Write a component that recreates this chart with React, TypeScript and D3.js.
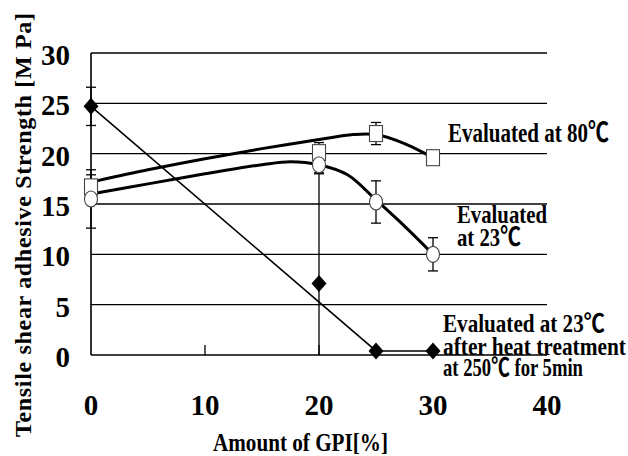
import React, { useLayoutEffect, useRef, useState } from "react";
import * as d3 from "d3";

// GPI content (%) at which the specimens were tested
const gpi = [0, 20, 25, 30];

// Tensile shear adhesive strength (MPa) and error half-widths
const at80 = [16.7, 20.1, 22.0, 19.6];
const at80Err = [1.2, 1.0, 1.1, 0];
const at23 = [15.5, 18.9, 15.2, 10.0];
const at23Err = [2.9, 0.8, 2.1, 1.65];
const heat = [24.7, 7.1, 0.4, 0.4];
const heatErr = [1.9, 10.9, 0, 0];

// Smoothed trend curves drawn behind the markers
const at80FitX = [0.5, 5, 10, 15, 20, 23, 25, 27.5, 30];
const at80FitY = [17.3, 18.4, 19.5, 20.5, 21.4, 21.9, 21.9, 21.0, 19.6];
const at23FitX = [0.5, 5, 10, 15, 17.5, 20, 22.5, 25, 27.5, 30];
const at23FitY = [16.1, 17.0, 18.0, 18.9, 19.2, 18.9, 17.9, 15.4, 12.8, 10.0];
// Straight trend for the heat-treated series
const heatFitX = [0, 25, 30];
const heatFitY = [24.7, 0.4, 0.4];

const yTicks = [0, 5, 10, 15, 20, 25, 30];
const xTicks = [0, 10, 20, 30, 40];

const W = 628;
const H = 456;
const serif = "'Liberation Serif', 'Times New Roman', serif";
const gothic = "'Noto Sans CJK JP', 'DejaVu Sans', sans-serif";

// Bold serif text squeezed horizontally to a given width
function FitText(props: {
  x: number;
  y: number;
  width: number;
  size: number;
  children: React.ReactNode;
}) {
  const ref = useRef<SVGTextElement>(null);
  const [s, setS] = useState(1);
  useLayoutEffect(() => {
    const el = ref.current;
    if (el) {
      const w = el.getComputedTextLength();
      if (w > 0) setS(props.width / w);
    }
  }, [props.width, props.size]);
  return (
    <text
      ref={ref}
      transform={`translate(${props.x},${props.y}) scale(${s},1)`}
      fontFamily={serif}
      fontWeight="bold"
      fontSize={props.size}
    >
      {props.children}
    </text>
  );
}

const Deg = () => <tspan fontFamily={gothic}>℃</tspan>;

export default function App() {
  const x = d3.scaleLinear().domain([0, 40]).range([91, 547]);
  const y = d3.scaleLinear().domain([0, 30]).range([355, 53]);

  const smooth = d3
    .line<[number, number]>()
    .x((d) => x(d[0]))
    .y((d) => y(d[1]))
    .curve(d3.curveCatmullRom.alpha(0.5));
  const straight = d3
    .line<[number, number]>()
    .x((d) => x(d[0]))
    .y((d) => y(d[1]));

  const zip = (a: number[], b: number[]) => a.map((v, i) => [v, b[i]] as [number, number]);

  const errBars = (vals: number[], errs: number[], key: string) =>
    vals.map((v, i) => {
      if (!errs[i]) return null;
      const cx = x(gpi[i]);
      const top = v + errs[i];
      const bot = Math.max(0, v - errs[i]);
      return (
        <g key={key + i} stroke="#000" strokeWidth={1.3}>
          <line x1={cx} x2={cx} y1={y(top)} y2={y(bot)} />
          <line x1={cx - 5} x2={cx + 5} y1={y(top)} y2={y(top)} />
          {v - errs[i] > 0 && <line x1={cx - 5} x2={cx + 5} y1={y(bot)} y2={y(bot)} />}
        </g>
      );
    });

  const diamond = "M0,-8.5L7.5,0L0,8.5L-7.5,0Z";

  return (
    <svg
      width={W}
      height={H}
      style={{ position: "absolute", left: 0, top: 0, background: "#fff" }}
    >
      <rect width={W} height={H} fill="#fff" />
      {/* grid */}
      {yTicks.slice(1).map((t) => (
        <line key={"g" + t} x1={x(0)} x2={x(40)} y1={y(t)} y2={y(t)} stroke="#000" strokeWidth={1.3} />
      ))}
      {/* axes */}
      <line x1={x(0)} x2={x(40)} y1={y(0)} y2={y(0)} stroke="#000" strokeWidth={1.6} />
      <line x1={x(0)} x2={x(0)} y1={y(30)} y2={y(0)} stroke="#000" strokeWidth={1.6} />
      {xTicks.slice(1, 4).map((t) => (
        <line key={"xt" + t} x1={x(t)} x2={x(t)} y1={y(0)} y2={y(0) - 10} stroke="#000" strokeWidth={1.3} />
      ))}

      {/* tick labels */}
      {yTicks.map((t) => (
        <text
          key={"yl" + t}
          x={70}
          y={y(t) + 12}
          textAnchor="end"
          fontFamily={serif}
          fontWeight="bold"
          fontSize={29}
        >
          {t}
        </text>
      ))}
      {xTicks.map((t) => (
        <text
          key={"xl" + t}
          x={x(t)}
          y={415}
          textAnchor="middle"
          fontFamily={serif}
          fontWeight="bold"
          fontSize={29}
        >
          {t}
        </text>
      ))}

      {/* axis titles */}
      <text
        transform="translate(31,437) rotate(-90)"
        fontFamily={serif}
        fontWeight="bold"
        fontSize={24}
        textLength={424}
        lengthAdjust="spacing"
      >
        Tensile shear adhesive Strength [M Pa]
      </text>
      <FitText x={213} y={451} width={175} size={25}>
        Amount of GPI[%]
      </FitText>

      {/* trend curves */}
      <path d={smooth(zip(at80FitX, at80FitY)) ?? ""} fill="none" stroke="#000" strokeWidth={3} />
      <path d={smooth(zip(at23FitX, at23FitY)) ?? ""} fill="none" stroke="#000" strokeWidth={3} />
      <path d={straight(zip(heatFitX, heatFitY)) ?? ""} fill="none" stroke="#000" strokeWidth={1.6} />

      {/* error bars */}
      {errBars(heat, heatErr, "he")}
      {errBars(at80, at80Err, "ae")}
      {errBars(at23, at23Err, "ce")}

      {/* markers */}
      {at80.map((v, i) => (
        <rect
          key={"sq" + i}
          x={x(gpi[i]) - 6.5}
          y={y(v) - 8}
          width={13}
          height={16}
          fill="#fff"
          stroke="#444"
          strokeWidth={1.1}
        />
      ))}
      {at23.map((v, i) => (
        <ellipse
          key={"ci" + i}
          cx={x(gpi[i])}
          cy={y(v)}
          rx={6.5}
          ry={8}
          fill="#fff"
          stroke="#444"
          strokeWidth={1.1}
        />
      ))}
      {heat.map((v, i) => (
        <path key={"di" + i} d={diamond} transform={`translate(${x(gpi[i])},${y(v)})`} fill="#000" />
      ))}

      {/* series annotations */}
      <FitText x={448} y={142} width={161} size={27}>
        Evaluated at 80<Deg />
      </FitText>
      <FitText x={457} y={223} width={90} size={26}>
        Evaluated
      </FitText>
      <FitText x={457} y={246} width={64} size={26}>
        at 23<Deg />
      </FitText>
      <FitText x={443} y={332} width={162} size={25}>
        Evaluated at 23<Deg />
      </FitText>
      <FitText x={443} y={355} width={183} size={25}>
        after heat treatment
      </FitText>
      <FitText x={443} y={376} width={140} size={25}>
        at 250<Deg /> for 5min
      </FitText>
    </svg>
  );
}
